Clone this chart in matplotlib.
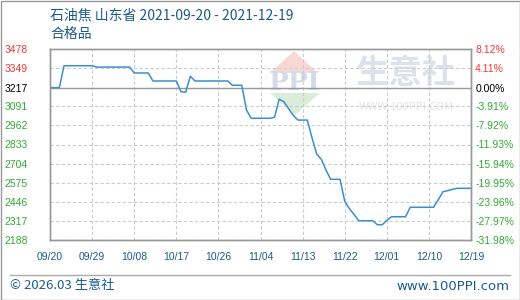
import matplotlib
matplotlib.use('Agg')
import matplotlib.pyplot as plt
from matplotlib.patches import Polygon, Rectangle

plt.rcParams['font.family'] = ['Noto Sans CJK SC', 'DejaVu Sans']

# 每日价格 (元/吨), 2021-09-20 ~ 2021-12-19
prices = [
    3217, 3217, 3217, 3365, 3365, 3365, 3365, 3365, 3365, 3365,
    3356, 3356, 3356, 3356, 3356, 3356, 3356, 3356, 3316, 3316,
    3316, 3316, 3262, 3262, 3262, 3262, 3262, 3262, 3190, 3186,
    3294, 3262, 3262, 3262, 3262, 3262, 3262, 3262, 3262, 3233,
    3233, 3233, 3066, 3010, 3010, 3010, 3010, 3010, 3017, 3140,
    3122, 3075, 3030, 2998, 2998, 2998, 2880, 2769, 2733, 2660,
    2598, 2598, 2598, 2450, 2400, 2360, 2318, 2318, 2318, 2318,
    2291, 2291, 2320, 2345, 2345, 2345, 2345, 2409, 2409, 2409,
    2409, 2409, 2409, 2460, 2514, 2521, 2530, 2537, 2537, 2537,
    2537,
]
x_labels = ['09/20', '09/29', '10/08', '10/17', '10/26', '11/04',
            '11/13', '11/22', '12/01', '12/10', '12/19']
y_ticks = [2188, 2317, 2446, 2575, 2704, 2833, 2962, 3091, 3217, 3349, 3478]
pct_labels = ['-31.98%', '-27.97%', '-23.96%', '-19.95%', '-15.94%', '-11.93%',
              '-7.92%', '-3.91%', '0.00%', '4.11%', '8.12%']
base = 3217

blue_txt = '#1c5b8c'
red = '#ff3333'
green = '#33aa33'

fig = plt.figure(figsize=(5.2, 3.0), dpi=100)

# 背景层: 边框、水印、页脚
bg = fig.add_axes([0, 0, 1, 1], zorder=0)
bg.set_xlim(0, 520)
bg.set_ylim(300, 0)
bg.axis('off')
bg.add_patch(Rectangle((0.5, 0.5), 519, 299, fill=False, edgecolor='#999999', lw=1))
bg.add_patch(Polygon([(270, 73), (318, 73), (294, 51)], closed=True,
                     facecolor='#f8d8d4', edgecolor='none'))
bg.add_patch(Polygon([(270, 93), (320, 93), (295, 115)], closed=True,
                     facecolor='#d8eed8', edgecolor='none'))
bg.text(295, 83, 'PPI', fontsize=19, color='#d4dae8', ha='center', va='center',
        family='DejaVu Serif', weight='bold')
bg.text(406, 73, '生意社', fontsize=24, color='#dde1ea', ha='center', va='center',
        weight='bold')
bg.text(406, 107, 'WWW.100PPI.COM', fontsize=8, color='#e2e4e8', ha='center', va='center')
bg.text(50, 15, '石油焦 山东省 2021-09-20 - 2021-12-19', fontsize=10, color=blue_txt,
        va='center', ha='left')
bg.text(50, 34, '合格品', fontsize=10, color=blue_txt, va='center', ha='left')
bg.plot([10, 510], [275, 275], color='#aaaaaa', lw=1)
bg.text(10, 286, '© 2026.03 生意社', fontsize=9.5, color=blue_txt, va='center', ha='left')
bg.text(509, 286, 'www.100PPI.com', fontsize=9.5, color=blue_txt, va='center', ha='right',
        family='DejaVu Sans')

# 主图
ax = fig.add_axes([50 / 520, 60 / 300, 421 / 520, 191 / 300], zorder=1)
ax.set_facecolor('none')
days = list(range(len(prices)))
ax.plot(days, prices, color='#3a8fd0', lw=1.1, zorder=3)

ax.set_xlim(0, 90)
ax.set_ylim(2188, 3478)
ax.set_xticks(range(0, 91, 9))
ax.set_xticklabels(x_labels, fontsize=7.5, color=blue_txt, family='Liberation Sans')
ax.set_yticks(y_ticks)
ax.set_yticklabels([str(v) for v in y_ticks], fontsize=7.5, family='Liberation Sans')
ax.tick_params(axis='x', length=0, pad=9)
ax.tick_params(axis='y', length=0, pad=16)

for lbl, v in zip(ax.get_yticklabels(), y_ticks):
    lbl.set_color(red if v > base else ('black' if v == base else green))

ax2 = ax.twinx()
ax2.set_ylim(2188, 3478)
ax2.set_yticks(y_ticks)
ax2.set_yticklabels(pct_labels, fontsize=7.5, family='Liberation Sans')
ax2.tick_params(axis='y', length=0, pad=3)
for lbl, v in zip(ax2.get_yticklabels(), y_ticks):
    lbl.set_color(red if v > base else ('black' if v == base else green))

ax.grid(True, linestyle='--', color='#cccccc', lw=0.8, dashes=(3, 2))
ax.axhline(base, color='#999999', lw=1, zorder=2)

for a in (ax, ax2):
    for s in a.spines.values():
        s.set_color('#999999')
        s.set_linewidth(1)

fig.savefig('out.png', dpi=100)
